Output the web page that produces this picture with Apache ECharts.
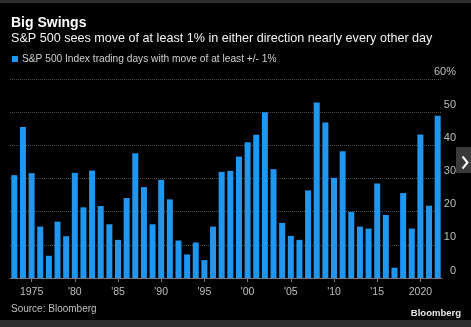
<!DOCTYPE html>
<html>
<head>
<meta charset="utf-8">
<script src="https://cdn.jsdelivr.net/npm/echarts@6/dist/echarts.min.js"></script>
<style>
  html, body { margin: 0; padding: 0; background: #000; }
  #chart { width: 471px; height: 327px; }
</style>
</head>
<body>
<div id="chart"></div>
<script>
// Share of S&P 500 trading days with a move of at least +/- 1%, by year
const years = [];
for (let y = 1973; y <= 2022; y++) years.push(String(y));

const pctDays = [
  31.0, 45.5, 31.6, 15.5, 6.7, 17.0, 12.6, 31.7, 21.3, 32.4,
  21.7, 16.2, 11.5, 24.1, 37.6, 27.4, 16.2, 29.6, 23.7, 11.3,
  7.1, 10.7, 5.4, 15.5, 32.0, 32.3, 36.6, 40.9, 43.2, 50.0,
  32.8, 16.6, 12.7, 11.5, 26.4, 52.9, 46.9, 30.2, 38.2, 19.9,
  15.5, 14.9, 28.5, 19.0, 3.1, 25.6, 14.9, 43.3, 21.8, 48.9
];

const yTicks = [0, 10, 20, 30, 40, 50, 60];

const FONT = 'Liberation Sans';
const chart = echarts.init(document.getElementById('chart'), null, { renderer: 'canvas' });

const showYear = (idx) => (1973 + idx) % 5 === 0;

chart.setOption({
  backgroundColor: '#000',
  animation: false,
  textStyle: { fontFamily: FONT },
  title: [
    {
      text: 'Big Swings',
      left: 11, top: 16, padding: 0,
      textStyle: { color: '#fff', fontSize: 14, fontWeight: 'bold', fontFamily: FONT }
    },
    {
      text: 'S&P 500 sees move of at least 1% in either direction nearly every other day',
      left: 11, top: 32, padding: 0,
      textStyle: { color: '#f2f2f2', fontSize: 12.6, fontWeight: 'normal', fontFamily: FONT }
    },
    {
      text: 'Source: Bloomberg',
      left: 11, top: 304, padding: 0,
      textStyle: { color: '#bdbdbd', fontSize: 10, fontWeight: 'normal', fontFamily: FONT }
    },
    {
      text: 'Bloomberg',
      right: 10, top: 308, padding: 0,
      textStyle: { color: '#e8e8e8', fontSize: 9.5, fontWeight: 'bold', fontFamily: FONT }
    }
  ],
  legend: {
    left: 12, top: 54, padding: 0,
    itemWidth: 6, itemHeight: 6, itemGap: 4,
    icon: 'rect',
    textStyle: { color: '#cfcfcf', fontSize: 10.2, fontFamily: FONT, padding: [0, 0, 0, -1] },
    data: ['S&P 500 Index trading days with move of at least +/- 1%']
  },
  grid: { left: 10, right: 29, top: 79, bottom: 49, containLabel: false },
  xAxis: {
    type: 'category',
    data: years,
    boundaryGap: true,
    axisLine: { show: true, lineStyle: { color: '#777', width: 1 } },
    axisTick: { show: true, alignWithLabel: true, interval: showYear, length: 4, lineStyle: { color: '#777' } },
    axisLabel: {
      interval: showYear,
      color: '#bdbdbd', fontSize: 10.5, margin: 9, fontFamily: FONT,
      formatter: (v) => (v === '1975' || v === '2020') ? v : "'" + v.slice(2)
    }
  },
  yAxis: {
    type: 'value',
    position: 'right',
    min: 0, max: 60, interval: 10,
    axisLine: { show: false },
    axisTick: { show: false },
    splitLine: { show: true, lineStyle: { color: '#4a4a4a', type: 'dotted', width: 1 } },
    axisLabel: {
      color: '#bdbdbd', fontSize: 11, fontFamily: FONT,
      align: 'right', verticalAlign: 'bottom', margin: 14, padding: [0, 0, 2, 0],
      formatter: (v) => yTicks.includes(v) ? (v === 60 ? v + '%' : String(v)) : ''
    }
  },
  series: [{
    name: 'S&P 500 Index trading days with move of at least +/- 1%',
    type: 'bar',
    data: pctDays,
    barWidth: 6,
    itemStyle: { color: '#1f97f0' }
  }],
  graphic: [
    { type: 'rect', left: 0, top: 0, shape: { width: 471, height: 3 }, style: { fill: '#2e2e2e' } },
    { type: 'rect', left: 0, top: 320, shape: { width: 471, height: 7 }, style: { fill: '#2e2e2e' } },
    { type: 'rect', left: 456, top: 147, shape: { width: 15, height: 26 }, style: { fill: '#3a3a3a' } },
    { type: 'polyline', left: 460, top: 154, shape: { points: [[0, 0], [5, 6], [0, 12]] }, style: { stroke: '#fff', lineWidth: 2, fill: null } }
  ]
});
</script>
</body>
</html>
